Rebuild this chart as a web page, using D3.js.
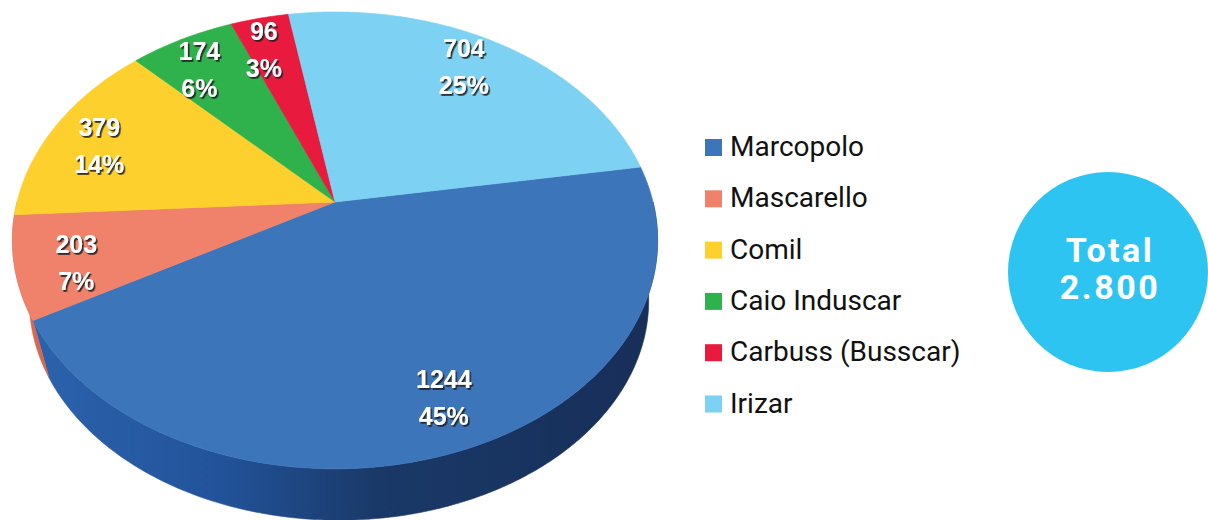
<!DOCTYPE html>
<html lang="pt">
<head>
  <meta charset="UTF-8">
  <title>Carrocerias – participação</title>
  <script src="https://cdn.jsdelivr.net/npm/d3@7"></script>
  <style>
    html, body { margin: 0; padding: 0; background: #fff; overflow: hidden; }
    svg { display: block; }
  </style>
</head>
<body>
  <script>
    // ------------- Data -------------
    const brands   = ["Marcopolo", "Mascarello", "Comil", "Caio Induscar", "Carbuss (Busscar)", "Irizar"];
    const units    = [1244, 203, 379, 174, 96, 704];
    const pctLabel = ["45%", "7%", "14%", "6%", "3%", "25%"];
    const topColors  = ["#3d75bb", "#f0826c", "#fdd02e", "#2fb24b", "#e81a3d", "#7dd1f3"];
    const sideColors = ["url(#sideBlue)", "#d8684f", "#d9ad1c", "#23883a", "#b5122e", "#55aed6"];
    const totalLabel = ["Total", "2.800"];

    const width = 1208, height = 520;

    // ------------- Perspective pie geometry -------------
    const cx = 335, cy = 202;   // pie centre on screen
    const sx = 318;             // horizontal radius at mid-depth
    const sy = 222;             // vertical scale
    const persp = 0.168;        // perspective strength
    // bottom rim = top rim shrunk toward the centre and pushed down (camera above)
    const bottomScale = 0.96, bottomDx = 4, bottomDy = 62;

    // project a point on the top of the disc (angle clockwise from 12 o'clock, radius 0..1)
    function proj(theta, r) {
      const X = r * Math.sin(theta), Z = -r * Math.cos(theta);
      const w = 1 - persp * Z;
      return [cx + sx * X / w, cy + sy * Z / w];
    }
    function projBottom(theta) {
      const [x, y] = proj(theta, 1);
      return [cx + (x - cx) * bottomScale + bottomDx, cy + (y - cy) * bottomScale + bottomDy];
    }
    function steps(a0, a1) {
      const n = Math.max(2, Math.ceil(Math.abs(a1 - a0) / 0.01));
      return d3.range(n + 1).map(i => a0 + (a1 - a0) * i / n);
    }

    const svg = d3.select("body").append("svg")
      .attr("width", width).attr("height", height);

    const defs = svg.append("defs");
    const grad = defs.append("linearGradient")
      .attr("id", "sideBlue")
      .attr("gradientUnits", "userSpaceOnUse")
      .attr("x1", 30).attr("x2", 660).attr("y1", 0).attr("y2", 0);
    grad.append("stop").attr("offset", 0).attr("stop-color", "#2c63ad");
    grad.append("stop").attr("offset", 0.3).attr("stop-color", "#22539a");
    grad.append("stop").attr("offset", 0.55).attr("stop-color", "#1a3968");
    grad.append("stop").attr("offset", 1).attr("stop-color", "#172e58");

    const shadow = defs.append("filter").attr("id", "txtShadow")
      .attr("x", "-20%").attr("y", "-20%").attr("width", "150%").attr("height", "150%");
    shadow.append("feDropShadow")
      .attr("dx", 1.6).attr("dy", 1.8).attr("stdDeviation", 0.7)
      .attr("flood-color", "#1a1a1a").attr("flood-opacity", 0.9);

    // pie angles
    const startA = 80.7 * Math.PI / 180;
    const pie = d3.pie().sort(null).value(d => d)
      .startAngle(startA).endAngle(startA + 2 * Math.PI);
    const arcs = pie(units);

    const line = d3.line();

    // ------------- Side walls (front half only) -------------
    const gSide = svg.append("g");
    arcs.forEach((d, i) => {
      const lo = Math.PI / 2, hi = 3 * Math.PI / 2;
      const a0 = Math.max(d.startAngle, lo), a1 = Math.min(d.endAngle, hi);
      if (a1 <= a0) return;
      const pts = steps(a0, a1).map(t => proj(t, 1))
        .concat(steps(a1, a0).map(projBottom));
      gSide.append("path")
        .attr("d", line(pts) + "Z")
        .attr("fill", sideColors[i])
        .attr("stroke", sideColors[i])
        .attr("stroke-width", 0.6);
    });

    // ------------- Top faces -------------
    const gTop = svg.append("g");
    arcs.forEach((d, i) => {
      const pts = [proj(0, 0)].concat(steps(d.startAngle, d.endAngle).map(t => proj(t, 1)));
      gTop.append("path")
        .attr("d", line(pts) + "Z")
        .attr("fill", topColors[i])
        .attr("stroke", topColors[i])
        .attr("stroke-width", 0.6);
    });

    // ------------- Slice labels -------------
    const labelR = 0.82, labelTurn = -2 * Math.PI / 180;
    const gLab = svg.append("g")
      .attr("font-family", "'Liberation Sans', Arial, sans-serif")
      .attr("font-weight", "bold")
      .attr("font-size", 25)
      .attr("fill", "#fff")
      .attr("text-anchor", "middle")
      .attr("filter", "url(#txtShadow)");
    arcs.forEach((d, i) => {
      const mid = (d.startAngle + d.endAngle) / 2 + labelTurn;
      const [lx, ly] = proj(mid, labelR);
      gLab.append("text").attr("x", lx).attr("y", ly - 9).text(units[i]);
      gLab.append("text").attr("x", lx).attr("y", ly + 28).text(pctLabel[i]);
    });

    // ------------- Legend -------------
    const legend = svg.append("g").attr("transform", "translate(705,139)");
    const item = legend.selectAll("g").data(brands).join("g")
      .attr("transform", (d, i) => `translate(0,${i * 51.3})`);
    item.append("rect")
      .attr("width", 17).attr("height", 17)
      .attr("fill", (d, i) => topColors[i]);
    item.append("text")
      .attr("x", 25).attr("y", 17)
      .attr("font-family", "Roboto, 'Noto Sans', sans-serif")
      .attr("font-size", 28)
      .attr("fill", "#111")
      .text(d => d);

    // ------------- Total badge -------------
    const badge = svg.append("g").attr("transform", "translate(1108,272)");
    badge.append("circle").attr("r", 100).attr("fill", "#2ec4f2");
    badge.selectAll("text").data(totalLabel).join("text")
      .attr("x", 2)
      .attr("y", (d, i) => i === 0 ? -10 : 27)
      .attr("text-anchor", "middle")
      .attr("font-family", "Roboto, 'Noto Sans', sans-serif")
      .attr("font-weight", "bold")
      .attr("font-size", 34)
      .attr("letter-spacing", 2.5)
      .attr("fill", "#fff")
      .text(d => d);
  </script>
</body>
</html>
